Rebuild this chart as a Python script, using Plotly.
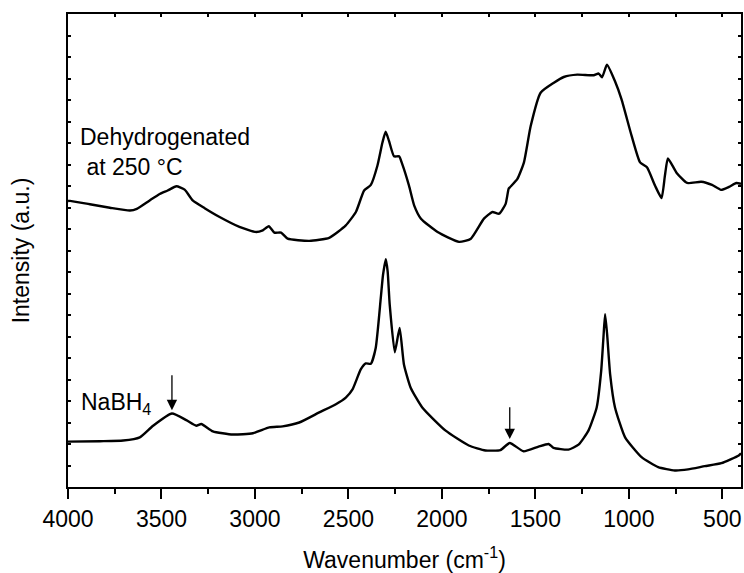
import plotly.graph_objects as go

# FTIR spectra: wavenumber (cm^-1) and offset intensity (a.u.)
dehydro_wn = [4000, 3989, 3883, 3776, 3669, 3632, 3563, 3509, 3467, 3420, 3376, 3333,
              3269, 3189, 3083, 2994, 2958, 2926, 2896, 2860, 2825, 2709, 2603, 2514,
              2460, 2416, 2380, 2345, 2318, 2301, 2283, 2256, 2229, 2212, 2176, 2148,
              2112, 2023, 1908, 1845, 1775, 1730, 1694, 1659, 1643, 1636, 1596, 1561,
              1525, 1472, 1401, 1348, 1276, 1188, 1161, 1143, 1117, 1074, 1039, 985,
              940, 903, 860, 825, 807, 791, 744, 688, 613, 555, 507, 464, 425, 400]
dehydro_int = [13.30, 13.31, 13.15, 12.99, 12.86, 12.94, 13.33, 13.63, 13.79, 13.99, 13.83, 13.33,
               12.97, 12.56, 12.10, 11.86, 11.94, 12.13, 11.83, 11.83, 11.55, 11.45, 11.59, 12.17,
               12.79, 13.79, 14.05, 14.94, 16.02, 16.52, 16.10, 15.38, 15.38, 15.02, 14.02, 13.09,
               12.48, 11.86, 11.40, 11.55, 12.48, 12.79, 12.71, 13.17, 13.87, 13.94, 14.33, 15.10,
               16.79, 18.34, 18.80, 19.07, 19.18, 19.15, 19.23, 19.06, 19.64, 18.87, 18.03, 16.33,
               15.10, 14.87, 14.02, 13.44, 14.48, 15.28, 14.61, 14.14, 14.20, 14.05, 13.82, 13.96, 14.14, 14.10]

nabh4_wn = [4000, 3829, 3705, 3616, 3545, 3444, 3367, 3314, 3287, 3225, 3118, 3011,
            2923, 2852, 2763, 2656, 2567, 2514, 2478, 2434, 2407, 2380, 2354, 2327,
            2315, 2300, 2290, 2279, 2252, 2226, 2203, 2167, 2105, 1980, 1856, 1767,
            1687, 1637, 1563, 1483, 1429, 1403, 1323, 1269, 1216, 1172, 1148, 1136,
            1127, 1116, 1100, 1074, 1020, 932, 843, 754, 683, 594, 505, 412, 400]
nabh4_int = [2.11, 2.13, 2.16, 2.31, 2.85, 3.42, 3.11, 2.85, 2.93, 2.59, 2.44, 2.50,
             2.77, 2.82, 3.00, 3.47, 3.85, 4.16, 4.54, 5.47, 5.75, 5.73, 6.47, 8.78,
             9.86, 10.60, 10.02, 8.47, 6.27, 7.40, 5.70, 4.62, 3.70, 2.62, 1.93, 1.70,
             1.72, 2.05, 1.66, 1.88, 2.00, 1.82, 1.74, 1.97, 2.62, 3.70, 5.39, 6.93,
             8.04, 7.09, 5.24, 3.70, 2.31, 1.39, 0.92, 0.77, 0.82, 0.97, 1.11, 1.47, 1.57]

# marked bands: (wavenumber, arrow tip, arrow tail)
arrow_wn = [3444, 1637]
arrow_tip = [3.57, 2.23]
arrow_tail = [5.27, 3.78]

FONT = "Arial, Liberation Sans, sans-serif"
FS = 23
X_RANGE = [4000, 400]

fig = go.Figure()
for wn, inten in [(dehydro_wn, dehydro_int), (nabh4_wn, nabh4_int)]:
    fig.add_trace(go.Scatter(x=wn, y=inten, mode="lines",
                             line=dict(color="black", width=2.4, shape="spline", smoothing=0.5),
                             showlegend=False, hoverinfo="skip"))

# placeholder trace so the top tick axis is drawn
fig.add_trace(go.Scatter(x=[None], y=[None], xaxis="x2", showlegend=False))

for wn, tip, tail in zip(arrow_wn, arrow_tip, arrow_tail):
    fig.add_annotation(x=wn, y=tip, ax=wn, ay=tail, xref="x", yref="y",
                       axref="x", ayref="y", text="", showarrow=True,
                       arrowhead=2, arrowsize=1.6, arrowwidth=1.3, arrowcolor="black",
                       standoff=0, startstandoff=0)

fig.add_annotation(x=3947, y=15.58, xref="x", yref="y", xanchor="left", yanchor="middle",
                   text="Dehydrogenated<br>\u00a0at 250 \u00b0C", align="left", showarrow=False,
                   font=dict(family=FONT, size=FS, color="black"))
fig.add_annotation(x=3941, y=3.88, xref="x", yref="y", xanchor="left", yanchor="middle",
                   text="NaBH<sub>4</sub>", align="left", showarrow=False,
                   font=dict(family=FONT, size=FS, color="black"))

fig.update_layout(
    width=744, height=573,
    margin=dict(l=68, r=1, t=14, b=83),
    paper_bgcolor="white", plot_bgcolor="white",
    font=dict(family=FONT, size=FS, color="black"),
    xaxis=dict(range=X_RANGE, tick0=0, dtick=500, ticks="outside", ticklen=10,
               tickwidth=2, tickcolor="black", showline=True, linewidth=2, linecolor="black",
               mirror=True, showgrid=False, zeroline=False,
               minor=dict(ticks="outside", ticklen=5, tickwidth=2, dtick=250, tick0=0,
                          tickcolor="black", showgrid=False),
               tickfont=dict(family=FONT, size=FS),
               title=dict(text="Wavenumber (cm<sup>-1</sup>)", standoff=24,
                          font=dict(family=FONT, size=FS))),
    # inward ticks along the top frame
    xaxis2=dict(range=X_RANGE, overlaying="x", side="top", tick0=0, dtick=250,
                ticks="inside", ticklen=3, tickwidth=2, tickcolor="black",
                showticklabels=False, showline=False, showgrid=False, zeroline=False),
    yaxis=dict(range=[0, 22], dtick=1, ticks="inside", ticklen=3, tickwidth=2,
               tickcolor="black", showticklabels=False, showline=True, linewidth=2,
               linecolor="black", mirror="ticks", showgrid=False, zeroline=False,
               title=dict(text="Intensity (a.u.)", standoff=30,
                          font=dict(family=FONT, size=FS))),
)

fig.write_html("out.html")
